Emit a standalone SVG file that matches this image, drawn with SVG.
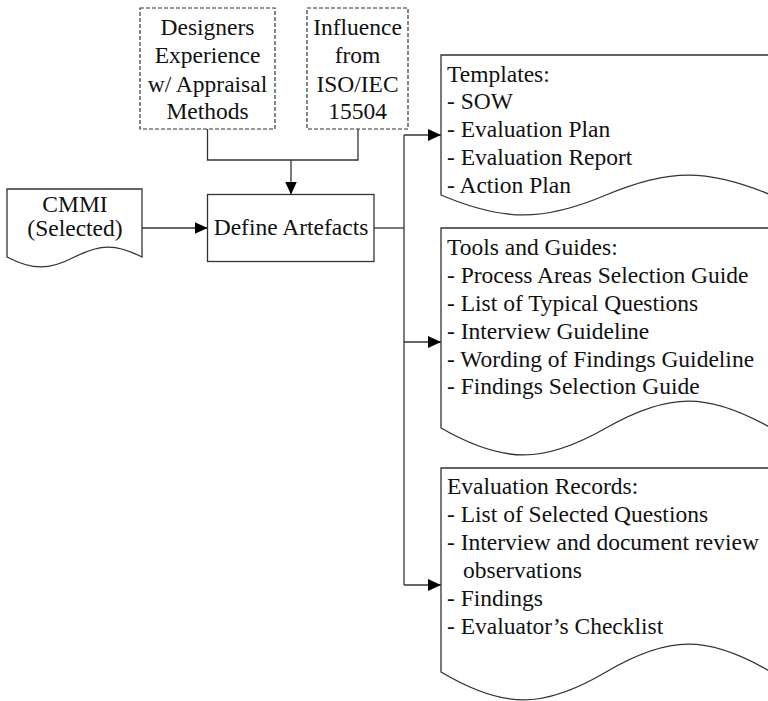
<svg xmlns="http://www.w3.org/2000/svg" width="768" height="701" viewBox="0 0 768 701">
<style>
text{font-family:"Liberation Serif","Times New Roman",serif;font-size:23.5px;fill:#111}
.c{text-anchor:middle}
.box{fill:#fff;stroke:#333;stroke-width:1.3}
.dash{fill:#fff;stroke:#333;stroke-width:1.2;stroke-dasharray:4 2}
.ln{fill:none;stroke:#333;stroke-width:1.3}
</style>
<defs>
<marker id="ah" viewBox="0 0 13 12" refX="13" refY="6" markerWidth="13" markerHeight="12" markerUnits="userSpaceOnUse" orient="auto">
<path d="M0,0 L13,6 L0,12 z" fill="#000"/>
</marker>
</defs>
<rect width="768" height="701" fill="#fff"/>
<g id="connectors">
<path class="ln" d="M207.5,129 V160 H358 V129"/>
<path class="ln" d="M291,160 V194.5" marker-end="url(#ah)"/>
<path class="ln" d="M142,228 H207.5" marker-end="url(#ah)"/>
<path class="ln" d="M374,228 H404"/>
<path class="ln" d="M404,135 V585"/>
<path class="ln" d="M404,135 H441" marker-end="url(#ah)"/>
<path class="ln" d="M404,342 H441" marker-end="url(#ah)"/>
<path class="ln" d="M404,585 H441" marker-end="url(#ah)"/>
</g>
<g id="designers">
<rect class="dash" x="140" y="8" width="135" height="121"/>
<text class="c" x="207.5" y="35">Designers</text>
<text class="c" x="207.5" y="63">Experience</text>
<text class="c" x="207.5" y="92">w/ Appraisal</text>
<text class="c" x="207.5" y="119">Methods</text>
</g>
<g id="influence">
<rect class="dash" x="307" y="8" width="101" height="121"/>
<text class="c" x="357.5" y="35">Influence</text>
<text class="c" x="357.5" y="63">from</text>
<text class="c" x="357.5" y="92">ISO/IEC</text>
<text class="c" x="357.5" y="119">15504</text>
</g>
<g id="define">
<rect class="box" x="207.5" y="194.5" width="166.5" height="67"/>
<text class="c" x="291" y="234.5">Define Artefacts</text>
</g>
<g id="cmmi">
<path class="box" d="M7,257 V189 H142 V257 C116.4,243.7 100.2,243.7 74.5,257 C48.9,270.3 32.7,270.3 7,257 Z"/>
<text class="c" x="75" y="212">CMMI</text>
<text class="c" x="75" y="236">(Selected)</text>
</g>
<g id="templates">
<path class="box" d="M441,195 V55 H771 V195 C708.3,168.4 668.7,168.4 606,195 C543.3,221.6 503.7,221.6 441,195 Z"/>
<text x="447" y="82">Templates:</text>
<text x="447" y="109">- SOW</text>
<text x="447" y="137">- Evaluation Plan</text>
<text x="447" y="165">- Evaluation Report</text>
<text x="447" y="193">- Action Plan</text>
</g>
<g id="tools">
<path class="box" d="M441,428 V228 H771 V428 C708.3,392.1 668.7,392.1 606,428 C543.3,463.9 503.7,463.9 441,428 Z"/>
<text x="447" y="255">Tools and Guides:</text>
<text x="447" y="283">- Process Areas Selection Guide</text>
<text x="447" y="311">- List of Typical Questions</text>
<text x="447" y="339">- Interview Guideline</text>
<text x="447" y="367">- Wording of Findings Guideline</text>
<text x="447" y="394">- Findings Selection Guide</text>
</g>
<g id="records">
<path class="box" d="M441,672 V468 H771 V672 C708.3,634.8 668.7,634.8 606,672 C543.3,709.2 503.7,709.2 441,672 Z"/>
<text x="447" y="494">Evaluation Records:</text>
<text x="447" y="522">- List of Selected Questions</text>
<text x="447" y="550">- Interview and document review</text>
<text x="463" y="578">observations</text>
<text x="447" y="606">- Findings</text>
<text x="447" y="634">- Evaluator’s Checklist</text>
</g>
</svg>
